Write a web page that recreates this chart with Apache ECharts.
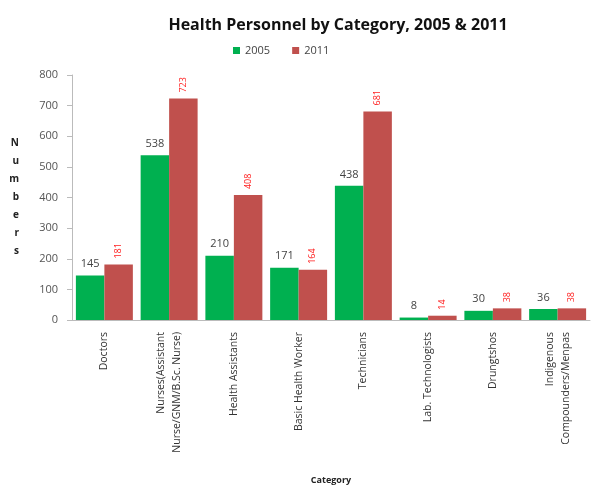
<!DOCTYPE html>
<html>
<head>
<meta charset="utf-8">
<script src="https://cdn.jsdelivr.net/npm/echarts@6/dist/echarts.min.js"></script>
<style>
  html, body { margin: 0; padding: 0; background: #fff; }
  #chart { width: 593px; height: 486px; }
</style>
</head>
<body>
<div id="chart"></div>
<script>
var categories = ['Doctors', 'Nurses(Assistant\nNurse/GNM/B.Sc. Nurse)', 'Health Assistants', 'Basic Health Worker',
  'Technicians', 'Lab. Technologists', 'Drungtshos', 'Indigenous\nCompounders/Menpas'];
var data2005 = [145, 538, 210, 171, 438, 8, 30, 36];
var data2011 = [181, 723, 408, 164, 681, 14, 38, 38];

var myChart = echarts.init(document.getElementById('chart'));
var font = 'Open Sans, Liberation Sans, sans-serif';
myChart.setOption({
  animation: false,
  textStyle: { fontFamily: font },
  title: {
    text: 'Health Personnel by Category, 2005 & 2011',
    left: 333, top: 12, textAlign: 'center',
    textStyle: { fontSize: 16, fontWeight: 'bold', color: '#111', fontFamily: font }
  },
  legend: {
    data: ['2005', '2011'],
    top: 40, left: 228,
    icon: 'rect', itemWidth: 7, itemHeight: 7, itemGap: 22,
    textStyle: { fontSize: 11, color: '#444' }
  },
  grid: { left: 72, right: 3, top: 75, bottom: 166, outerBoundsMode: 'none' },
  xAxis: {
    type: 'category',
    data: categories,
    name: 'Category',
    nameLocation: 'middle',
    nameGap: 156,
    nameTextStyle: { fontSize: 9, fontWeight: 'bold', color: '#222' },
    axisLine: { lineStyle: { color: '#bbb' } },
    axisTick: { lineStyle: { color: '#bbb' } },
    axisLabel: { rotate: 90, interval: 0, fontSize: 10.5, color: '#333', lineHeight: 16, margin: 12 }
  },
  yAxis: {
    type: 'value', min: 0, max: 800, interval: 100,
    name: 'N\nu\nm\nb\ne\nr\ns',
    nameLocation: 'middle', nameRotate: 0, nameGap: 53,
    nameTextStyle: { fontSize: 10, fontWeight: 'bold', color: '#222', lineHeight: 18 },
    axisLine: { show: true, lineStyle: { color: '#bbb' } },
    axisTick: { show: true, lineStyle: { color: '#bbb' } },
    splitLine: { show: false },
    axisLabel: { fontSize: 11, color: '#555', margin: 14 }
  },
  series: [
    {
      name: '2005', type: 'bar', data: data2005,
      barGap: '0%', barCategoryGap: '12%',
      itemStyle: { color: '#00B050' },
      label: { show: true, position: 'top', fontSize: 11, color: '#444', distance: 6 }
    },
    {
      name: '2011', type: 'bar', data: data2011,
      itemStyle: { color: '#C0504D' },
      label: { show: true, position: 'top', rotate: 90, align: 'left', verticalAlign: 'middle',
        fontSize: 9, color: '#FF2020', distance: 6 }
    }
  ]
});
</script>
</body>
</html>
